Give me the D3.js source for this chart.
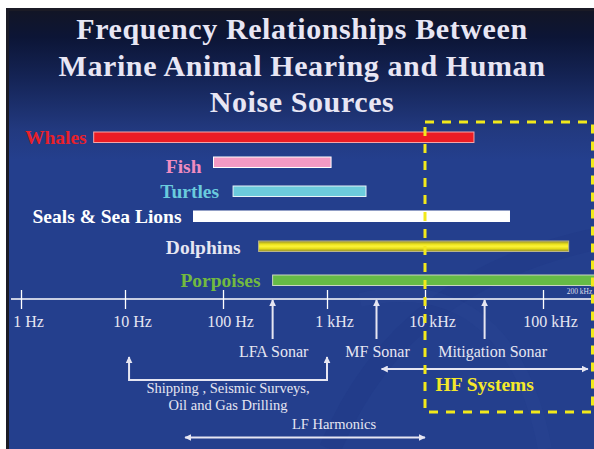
<!DOCTYPE html>
<html>
<head>
<meta charset="utf-8">
<script src="https://cdn.jsdelivr.net/npm/d3@7"></script>
<style>
body { margin: 0; background: #fff; }
svg { display: block; }
</style>
</head>
<body>
<script>
var width = 594, height = 449;

// hearing ranges, Hz
var animals = ["Whales", "Fish", "Turtles", "Seals & Sea Lions", "Dolphins", "Porpoises"];
var lowHz  = [5, 80, 125, 50, 220, 300];
var highHz = [26000, 1100, 2500, 52000, 165000, 400000];

// axis
var tickHz = [1, 10, 100, 1000, 10000, 100000];
var tickLabels = ["1 Hz", "10 Hz", "100 Hz", "1 kHz", "10 kHz", "100 kHz"];

// noise sources
var sonarNames = ["LFA Sonar", "MF Sonar", "Mitigation Sonar"];
var sonarHz = [300, 3200, 32000];
var shippingHz = [11, 1000];
var hfSystemsHz = [3600, 240000];
var lfHarmonicsHz = [41, 10000];
var hfBoxHz = 10000;

var titleLines = ["Frequency Relationships Between", "Marine Animal Hearing and Human", "Noise Sources"];

var barFill = {"Whales": "#ec1c24", "Fish": "#f49ac4", "Turtles": "#6ccbdc",
    "Seals & Sea Lions": "#ffffff", "Dolphins": "url(#dolphinGrad)", "Porpoises": "#66bb46"};
var barStroke = {"Whales": "#f5a5a8", "Fish": "#ffffff", "Turtles": "#e6f4f8",
    "Seals & Sea Lions": "#ffffff", "Dolphins": "#b9b48a", "Porpoises": "#c9d6c0"};
var labelFill = {"Whales": "#e8202a", "Fish": "#f08cc0", "Turtles": "#6acbdd",
    "Seals & Sea Lions": "#ffffff", "Dolphins": "#e6e6f2", "Porpoises": "#72ba40"};
var labelGap = {"Whales": 7, "Fish": 12, "Turtles": 14, "Seals & Sea Lions": 12, "Dolphins": 18, "Porpoises": 12};
var labelDy = {"Whales": 7, "Fish": 11, "Turtles": 7, "Seals & Sea Lions": 7, "Dolphins": 7.5, "Porpoises": 7};

var serif = "'Liberation Serif', 'Times New Roman', serif";
var textCol = "#e6e6f2";

var svg = d3.select("body").append("svg")
    .attr("width", width)
    .attr("height", height);

var defs = svg.append("defs");

var bg = defs.append("linearGradient").attr("id", "bgGrad")
    .attr("x1", 0).attr("y1", 0).attr("x2", 0).attr("y2", 1);
bg.append("stop").attr("offset", "0%").attr("stop-color", "#121526");
bg.append("stop").attr("offset", "6%").attr("stop-color", "#0c1536");
bg.append("stop").attr("offset", "16%").attr("stop-color", "#152558");
bg.append("stop").attr("offset", "27%").attr("stop-color", "#22397f");
bg.append("stop").attr("offset", "34%").attr("stop-color", "#243f8d");
bg.append("stop").attr("offset", "100%").attr("stop-color", "#243f8d");

var dg = defs.append("linearGradient").attr("id", "dolphinGrad")
    .attr("x1", 0).attr("y1", 0).attr("x2", 0).attr("y2", 1);
dg.append("stop").attr("offset", "0%").attr("stop-color", "#8f8a2c");
dg.append("stop").attr("offset", "30%").attr("stop-color", "#ebe21a");
dg.append("stop").attr("offset", "50%").attr("stop-color", "#fbf33a");
dg.append("stop").attr("offset", "70%").attr("stop-color", "#ebe21a");
dg.append("stop").attr("offset", "100%").attr("stop-color", "#8f8a2c");

defs.append("marker").attr("id", "head")
    .attr("viewBox", "0 0 10 10")
    .attr("refX", 9).attr("refY", 5)
    .attr("markerWidth", 7).attr("markerHeight", 7)
    .attr("markerUnits", "userSpaceOnUse")
    .attr("orient", "auto-start-reverse")
  .append("path")
    .attr("d", "M0,0 L10,5 L0,10 z")
    .attr("fill", textCol);

// slide
svg.append("rect").attr("x", 6).attr("y", 8).attr("width", width - 6).attr("height", height - 8)
    .attr("fill", "#1b1b26");
svg.append("rect").attr("x", 9).attr("y", 11).attr("width", width - 9).attr("height", height - 11)
    .attr("fill", "url(#bgGrad)");

// faint swooshes
svg.append("path")
    .attr("d", "M330,449 C380,330 470,265 600,238")
    .attr("fill", "none").attr("stroke", "#1d3683").attr("stroke-width", 22).attr("opacity", 0.3);
svg.append("path")
    .attr("d", "M360,300 C450,280 520,320 545,449")
    .attr("fill", "none").attr("stroke", "#2a4696").attr("stroke-width", 14).attr("opacity", 0.25);

// title
svg.append("g").selectAll("text")
    .data(titleLines)
  .enter().append("text")
    .attr("x", 302)
    .attr("y", function(d, i) { return 39 + i * 36.5; })
    .attr("text-anchor", "middle")
    .attr("font-family", serif)
    .attr("font-weight", "bold")
    .attr("font-size", 30)
    .attr("letter-spacing", 0.6)
    .attr("fill", "#e8e6f4")
    .text(function(d) { return d; });

var x = d3.scaleLog()
    .domain(tickHz)
    .range([21, 125, 223, 327, 425, 543]);

var y = d3.scaleOrdinal()
    .domain(animals)
    .range([137, 162, 191, 216, 246, 280]);

// hearing bars
var bars = svg.append("g");
bars.selectAll("rect")
    .data(animals)
  .enter().append("rect")
    .attr("x", function(d, i) { return x(lowHz[i]); })
    .attr("y", function(d) { return y(d) - 5; })
    .attr("width", function(d, i) { return x(highHz[i]) - x(lowHz[i]); })
    .attr("height", 10.5)
    .attr("fill", function(d) { return barFill[d]; })
    .attr("stroke", function(d) { return barStroke[d]; })
    .attr("stroke-width", 1);

bars.selectAll("text")
    .data(animals)
  .enter().append("text")
    .attr("x", function(d, i) { return x(lowHz[i]) - labelGap[d]; })
    .attr("y", function(d) { return y(d) + labelDy[d]; })
    .attr("text-anchor", "end")
    .attr("font-family", serif)
    .attr("font-weight", "bold")
    .attr("font-size", 19.5)
    .attr("fill", function(d) { return labelFill[d]; })
    .text(function(d) { return d; });

// frequency axis
svg.append("line")
    .attr("x1", 11).attr("x2", width)
    .attr("y1", 299).attr("y2", 299)
    .attr("stroke", "#fff").attr("stroke-width", 1.3);

var axis = d3.axisBottom(x)
    .tickValues(tickHz)
    .tickFormat(function(d, i) { return tickLabels[i]; })
    .tickSize(10);

var gAxis = svg.append("g")
    .attr("transform", "translate(0,299)")
    .call(axis);
gAxis.select(".domain").remove();
gAxis.selectAll(".tick line")
    .attr("y1", -9).attr("y2", 10)
    .attr("stroke", "#fff").attr("stroke-width", 1.3);
gAxis.selectAll(".tick text")
    .attr("y", 28).attr("dy", 0).attr("dx", 7)
    .attr("font-family", serif)
    .attr("font-size", 16)
    .attr("fill", textCol);

svg.append("text")
    .attr("x", x(200000) + 1).attr("y", 294)
    .attr("text-anchor", "middle")
    .attr("font-family", serif)
    .attr("font-size", 7.5)
    .attr("fill", "#dcdcea")
    .text("200 kHz");

// noise sources
var notes = svg.append("g")
    .attr("font-family", serif)
    .attr("fill", textCol);

notes.selectAll("line.sonar")
    .data(sonarHz)
  .enter().append("line")
    .attr("class", "sonar")
    .attr("x1", function(d) { return x(d); })
    .attr("x2", function(d) { return x(d); })
    .attr("y1", 339).attr("y2", 300)
    .attr("stroke", textCol).attr("stroke-width", 2)
    .attr("marker-end", "url(#head)");

notes.selectAll("text.sonar")
    .data(sonarNames)
  .enter().append("text")
    .attr("class", "sonar")
    .attr("x", function(d, i) { return x(sonarHz[i]) + (i === 2 ? 8 : 1); })
    .attr("y", 357)
    .attr("text-anchor", "middle")
    .attr("font-size", 16)
    .text(function(d) { return d; });

notes.append("path")
    .attr("d", "M" + x(shippingHz[0]) + ",357 V380 H" + x(shippingHz[1]) + " V357")
    .attr("fill", "none")
    .attr("stroke", textCol).attr("stroke-width", 2)
    .attr("marker-start", "url(#head)")
    .attr("marker-end", "url(#head)");

var shipMid = (x(shippingHz[0]) + x(shippingHz[1])) / 2;
notes.append("text")
    .attr("x", shipMid).attr("y", 393)
    .attr("text-anchor", "middle").attr("font-size", 14.5)
    .text("Shipping , Seismic Surveys,");
notes.append("text")
    .attr("x", shipMid).attr("y", 410)
    .attr("text-anchor", "middle").attr("font-size", 14.5)
    .text("Oil and Gas Drilling");

notes.append("line")
    .attr("x1", x(hfSystemsHz[0])).attr("x2", x(hfSystemsHz[1]))
    .attr("y1", 369).attr("y2", 369)
    .attr("stroke", textCol).attr("stroke-width", 2)
    .attr("marker-start", "url(#head)")
    .attr("marker-end", "url(#head)");

notes.append("text")
    .attr("x", (x(hfSystemsHz[0]) + x(hfSystemsHz[1])) / 2)
    .attr("y", 391)
    .attr("text-anchor", "middle")
    .attr("font-weight", "bold")
    .attr("font-size", 19.5)
    .attr("fill", "#f4e82a")
    .text("HF Systems");

notes.append("line")
    .attr("x1", x(lfHarmonicsHz[0])).attr("x2", x(lfHarmonicsHz[1]))
    .attr("y1", 437.5).attr("y2", 437.5)
    .attr("stroke", textCol).attr("stroke-width", 2)
    .attr("marker-start", "url(#head)")
    .attr("marker-end", "url(#head)");

notes.append("text")
    .attr("x", x(1000) + 7).attr("y", 429)
    .attr("text-anchor", "middle").attr("font-size", 14.5)
    .text("LF Harmonics");

// HF systems box
svg.append("rect")
    .attr("x", x(hfBoxHz)).attr("y", 122)
    .attr("width", 592.5 - x(hfBoxHz)).attr("height", 290)
    .attr("fill", "none")
    .attr("stroke", "#f2e91b").attr("stroke-width", 3)
    .attr("stroke-dasharray", "9,8");
</script>
</body>
</html>
